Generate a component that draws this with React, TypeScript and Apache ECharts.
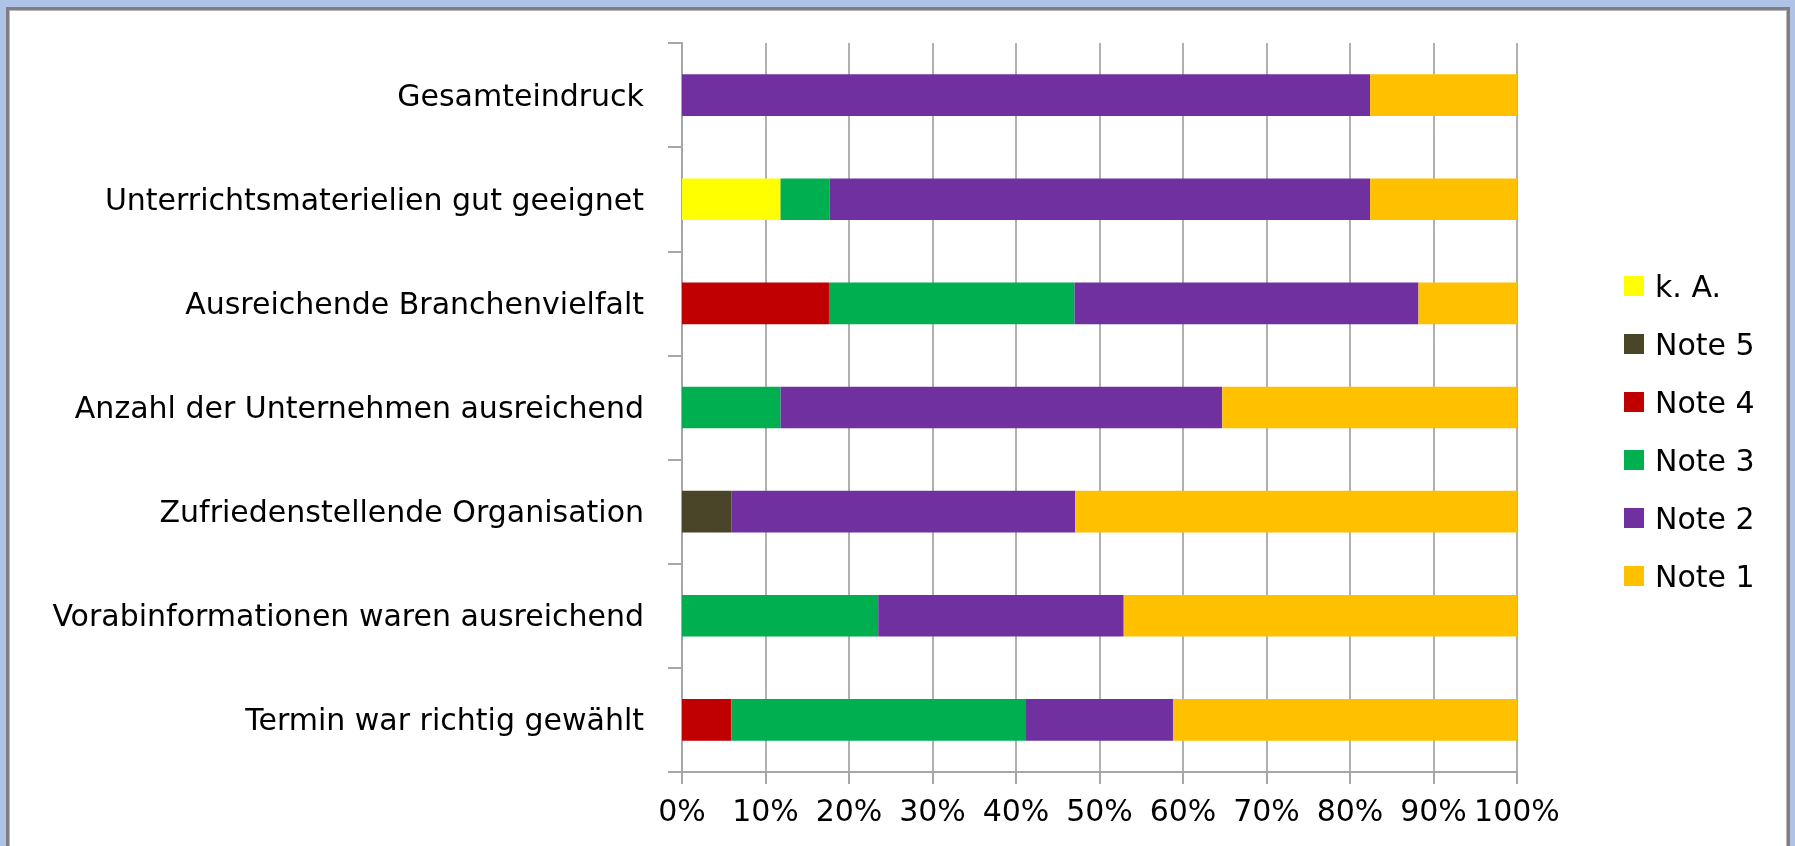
import React, { useEffect, useRef } from "react";
import * as echarts from "echarts";

const categories = [
  "Gesamteindruck",
  "Unterrichtsmaterielien gut geeignet",
  "Ausreichende Branchenvielfalt",
  "Anzahl der Unternehmen ausreichend",
  "Zufriedenstellende Organisation",
  "Vorabinformationen waren ausreichend",
  "Termin war richtig gewählt",
];

const seriesNames = ["k. A.", "Note 5", "Note 4", "Note 3", "Note 2", "Note 1"];

const kA = [0, 11.8, 0, 0, 0, 0, 0];
const note5 = [0, 0, 0, 0, 5.9, 0, 0];
const note4 = [0, 0, 17.6, 0, 0, 0, 5.9];
const note3 = [0, 5.9, 29.4, 11.8, 0, 23.5, 35.3];
const note2 = [82.4, 64.7, 41.2, 52.9, 41.2, 29.4, 17.6];
const note1 = [17.6, 17.6, 11.8, 35.3, 52.9, 47.1, 41.2];

const xTicks = [0, 10, 20, 30, 40, 50, 60, 70, 80, 90, 100];

const seriesValues = [kA, note5, note4, note3, note2, note1];
const colors = ["#FFFF00", "#4A4529", "#C00000", "#00B050", "#7030A0", "#FFC000"];

const FONT = "DejaVu Sans";

export default function App() {
  const ref = useRef<HTMLDivElement>(null);

  useEffect(() => {
    if (!ref.current) return;
    const chart = echarts.init(ref.current, undefined, { renderer: "svg" });
    chart.setOption({
      animation: false,
      backgroundColor: "transparent",
      graphic: [
        { type: "rect", z: -10, shape: { x: 0, y: 0, width: 1795, height: 846 }, style: { fill: "#AEC3E5" } },
        { type: "rect", z: -9, shape: { x: 6, y: 7, width: 1784, height: 860 }, style: { fill: "#7F7F7F" } },
        { type: "rect", z: -8, shape: { x: 9, y: 10, width: 1778, height: 860 }, style: { fill: "#B8B8B8" } },
        { type: "rect", z: -7, shape: { x: 10, y: 11, width: 1776, height: 860 }, style: { fill: "#FFFFFF" } },
      ],
      grid: { left: 682, right: 278, top: 43, bottom: 74, containLabel: false },
      legend: {
        orient: "vertical",
        left: 1619,
        top: 266,
        itemWidth: 20,
        itemHeight: 20,
        itemGap: 28,
        icon: "rect",
        data: seriesNames,
        textStyle: { fontFamily: FONT, fontSize: 30, color: "#000", lineHeight: 30, padding: [0, 0, 0, 6] },
      },
      xAxis: {
        type: "value",
        min: xTicks[0],
        max: xTicks[xTicks.length - 1],
        interval: 10,
        axisLine: { show: true, lineStyle: { color: "#A6A6A6", width: 2 } },
        axisTick: { show: true, length: 12, lineStyle: { color: "#A6A6A6", width: 2 } },
        splitLine: { show: true, lineStyle: { color: "#B0B0B0", width: 2 } },
        axisLabel: {
          fontFamily: FONT,
          fontSize: 30,
          color: "#000",
          margin: 23,
          formatter: "{value}%",
        },
      },
      yAxis: {
        type: "category",
        inverse: true,
        data: categories,
        axisLine: { show: true, lineStyle: { color: "#A6A6A6", width: 2 } },
        axisTick: { show: true, length: 14, alignWithLabel: false, interval: 0, lineStyle: { color: "#A6A6A6", width: 2 } },
        axisLabel: { fontFamily: FONT, fontSize: 30, color: "#000", margin: 38, interval: 0 },
        splitLine: { show: false },
      },
      series: seriesNames.map((name, i) => ({
        name,
        type: "bar",
        stack: "total",
        barWidth: "40%",
        itemStyle: { color: colors[i] },
        data: seriesValues[i],
      })),
    });
    return () => chart.dispose();
  }, []);

  return (
    <div
      ref={ref}
      style={{ position: "fixed", left: 0, top: 0, width: 1795, height: 846 }}
    />
  );
}
